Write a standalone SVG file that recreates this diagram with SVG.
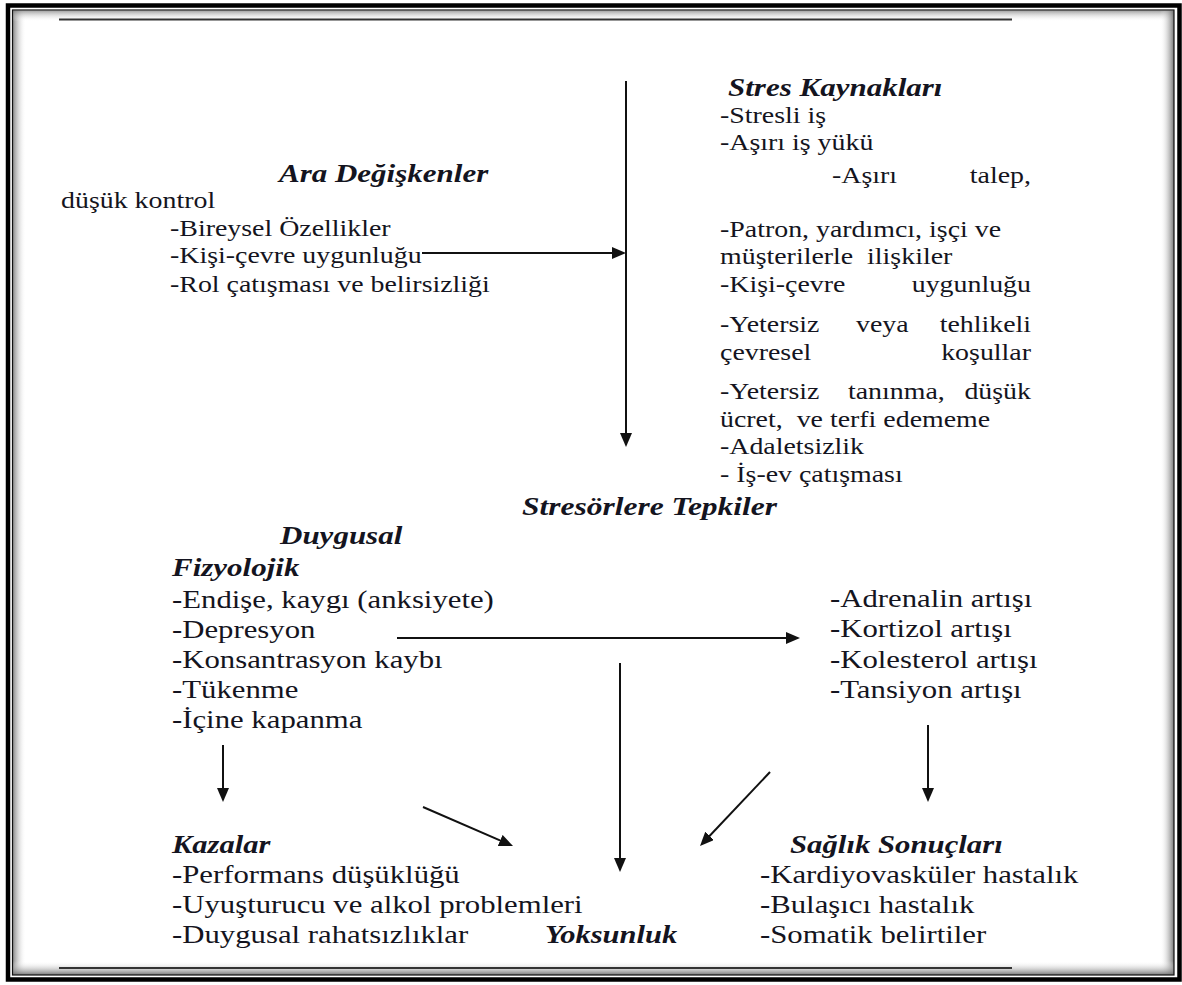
<svg xmlns="http://www.w3.org/2000/svg" width="1182" height="985" viewBox="0 0 1182 985">
<style>
.t{font-family:"Liberation Serif","Times New Roman",serif;fill:#141420;}
.s21{font-size:22.5px;}
.s23{font-size:25px;}
.h{font-family:"Liberation Serif","Times New Roman",serif;fill:#141420;font-size:25px;font-weight:bold;font-style:italic;}
.end{text-anchor:end;}
.rule{stroke:#333;stroke-width:2;fill:none;}
.arr{stroke:#111;stroke-width:2;fill:none;marker-end:url(#ah);}
</style>
<defs>
<marker id="ah" viewBox="0 0 14 12" refX="6" refY="6" markerWidth="14" markerHeight="12" markerUnits="userSpaceOnUse" orient="auto">
<path d="M0,0 L14,6 L0,12 z" fill="#111"/>
</marker>
<linearGradient id="gL" x1="0" y1="0" x2="1" y2="0"><stop offset="0" stop-color="#777" stop-opacity="0.85"/><stop offset="1" stop-color="#fff" stop-opacity="0"/></linearGradient>
<linearGradient id="gT" x1="0" y1="0" x2="0" y2="1"><stop offset="0" stop-color="#777" stop-opacity="0.7"/><stop offset="1" stop-color="#fff" stop-opacity="0"/></linearGradient>
<linearGradient id="gR" x1="1" y1="0" x2="0" y2="0"><stop offset="0" stop-color="#666" stop-opacity="0.9"/><stop offset="1" stop-color="#fff" stop-opacity="0"/></linearGradient>
<linearGradient id="gB" x1="0" y1="1" x2="0" y2="0"><stop offset="0" stop-color="#666" stop-opacity="0.9"/><stop offset="1" stop-color="#fff" stop-opacity="0"/></linearGradient>
</defs>
<rect width="1182" height="985" fill="#fff"/>
<g id="frame">
<rect x="13" y="10.5" width="13" height="964" fill="url(#gL)"/>
<rect x="13" y="10.5" width="1161" height="11" fill="url(#gT)"/>
<rect x="1160" y="10.5" width="14" height="964" fill="url(#gR)"/>
<rect x="13" y="961" width="1161" height="14" fill="url(#gB)"/>
<rect x="8" y="5.5" width="1171.5" height="974" fill="none" stroke="#000" stroke-width="4.5"/>
<rect x="12.5" y="10" width="1161.5" height="965" fill="none" stroke="#111" stroke-width="1.2"/>
<line class="rule" x1="59" y1="19.5" x2="1012" y2="19.5"/>
<line class="rule" x1="59" y1="968" x2="1012" y2="968"/>
</g>
<g id="ara-degiskenler">
<text class="h" transform="translate(279 182) scale(1.24 1)">Ara Değişkenler</text>
<text class="t s21" transform="translate(61 208) scale(1.24 1)">düşük kontrol</text>
<text class="t s21" transform="translate(170 236) scale(1.24 1)">-Bireysel Özellikler</text>
<text class="t s21" transform="translate(170 263) scale(1.24 1)">-Kişi-çevre uygunluğu</text>
<text class="t s21" transform="translate(170 292) scale(1.24 1)">-Rol çatışması ve belirsizliği</text>
</g>
<g id="stres-kaynaklari">
<text class="h" transform="translate(728 96) scale(1.24 1)">Stres Kaynakları</text>
<text class="t s21" transform="translate(720 123) scale(1.24 1)">-Stresli iş</text>
<text class="t s21" transform="translate(720 150) scale(1.24 1)">-Aşırı iş yükü</text>
<text class="t s21" transform="translate(832 183) scale(1.24 1)">-Aşırı</text>
<text class="t s21 end" transform="translate(1031 183) scale(1.24 1)">talep,</text>
<text class="t s21" transform="translate(720 237) scale(1.24 1)">-Patron, yardımcı, işçi ve</text>
<text class="t s21" transform="translate(720 264) scale(1.24 1)">müşterilerle&#160; ilişkiler</text>
<text class="t s21" transform="translate(720 292) scale(1.24 1)">-Kişi-çevre</text>
<text class="t s21 end" transform="translate(1031 292) scale(1.24 1)">uygunluğu</text>
<text class="t s21" transform="translate(720 332) scale(1.24 1)">-Yetersiz</text>
<text class="t s21" transform="translate(856 332) scale(1.24 1)">veya</text>
<text class="t s21 end" transform="translate(1031 332) scale(1.24 1)">tehlikeli</text>
<text class="t s21" transform="translate(720 360) scale(1.24 1)">çevresel</text>
<text class="t s21 end" transform="translate(1031 360) scale(1.24 1)">koşullar</text>
<text class="t s21" transform="translate(720 399) scale(1.24 1)">-Yetersiz</text>
<text class="t s21" transform="translate(848 399) scale(1.24 1)">tanınma,</text>
<text class="t s21 end" transform="translate(1031 399) scale(1.24 1)">düşük</text>
<text class="t s21" transform="translate(720 427) scale(1.24 1)">ücret,&#160; ve terfi edememe</text>
<text class="t s21" transform="translate(720 454) scale(1.24 1)">-Adaletsizlik</text>
<text class="t s21" transform="translate(720 482) scale(1.24 1)">- İş-ev çatışması</text>
</g>
<g id="stresorlere-tepkiler">
<text class="h" transform="translate(522 515) scale(1.26 1)">Stresörlere Tepkiler</text>
</g>
<g id="duygusal-fizyolojik">
<text class="h" transform="translate(280 544) scale(1.24 1)">Duygusal</text>
<text class="h" transform="translate(172 576) scale(1.24 1)">Fizyolojik</text>
<text class="t s23" transform="translate(172 608) scale(1.23 1)">-Endişe, kaygı (anksiyete)</text>
<text class="t s23" transform="translate(172 638) scale(1.23 1)">-Depresyon</text>
<text class="t s23" transform="translate(172 668) scale(1.23 1)">-Konsantrasyon kaybı</text>
<text class="t s23" transform="translate(172 698) scale(1.23 1)">-Tükenme</text>
<text class="t s23" transform="translate(172 728) scale(1.23 1)">-İçine kapanma</text>
</g>
<g id="fizyolojik-tepkiler">
<text class="t s23" transform="translate(830 607) scale(1.23 1)">-Adrenalin artışı</text>
<text class="t s23" transform="translate(830 637) scale(1.23 1)">-Kortizol artışı</text>
<text class="t s23" transform="translate(830 668) scale(1.23 1)">-Kolesterol artışı</text>
<text class="t s23" transform="translate(830 698) scale(1.23 1)">-Tansiyon artışı</text>
</g>
<g id="kazalar">
<text class="h" transform="translate(172 853) scale(1.22 1)">Kazalar</text>
<text class="t s23" transform="translate(172 883) scale(1.23 1)">-Performans düşüklüğü</text>
<text class="t s23" transform="translate(172 913) scale(1.23 1)">-Uyuşturucu ve alkol problemleri</text>
<text class="t s23" transform="translate(172 943) scale(1.23 1)">-Duygusal rahatsızlıklar</text>
</g>
<g id="yoksunluk">
<text class="h" transform="translate(545 943) scale(1.22 1)">Yoksunluk</text>
</g>
<g id="saglik-sonuclari">
<text class="h" transform="translate(790 853) scale(1.23 1)">Sağlık Sonuçları</text>
<text class="t s23" transform="translate(760 883) scale(1.23 1)">-Kardiyovasküler hastalık</text>
<text class="t s23" transform="translate(760 913) scale(1.23 1)">-Bulaşıcı hastalık</text>
<text class="t s23" transform="translate(760 943) scale(1.23 1)">-Somatik belirtiler</text>
</g>
<g id="connectors">
<line class="arr" x1="626" y1="81" x2="626" y2="439"/>
<line class="arr" x1="422" y1="253" x2="618" y2="253"/>
<line class="arr" x1="397" y1="638" x2="792" y2="638"/>
<line class="arr" x1="620" y1="663" x2="620" y2="864"/>
<line class="arr" x1="223" y1="745" x2="223" y2="794"/>
<line class="arr" x1="423" y1="807" x2="505.7" y2="842.8"/>
<line class="arr" x1="770" y1="772" x2="705.5" y2="840.2"/>
<line class="arr" x1="928" y1="725" x2="928" y2="794"/>
</g>
</svg>
